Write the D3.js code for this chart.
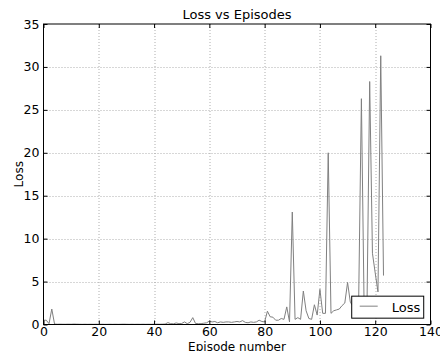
<!DOCTYPE html>
<html>
<head>
<meta charset="utf-8">
<script src="https://cdn.jsdelivr.net/npm/d3@7"></script>
<style>
  html, body { margin: 0; padding: 0; background: #fff; }
  svg { display: block; }
  text { font-family: "DejaVu Sans", sans-serif; fill: #000; }
</style>
</head>
<body>
<svg id="chart" width="440" height="351"></svg>
<script>
// ---- data ----
const episodes = d3.range(0, 124);
const lossValues = [
  0.5, 0.5, 0.1, 1.8, 0.05, 0.03, 0.04, 0.03, 0.03, 0.04,
  0.03, 0.05, 0.04, 0.03, 0.02, 0.03, 0.02, 0.03, 0.02, 0.03,
  0.02, 0.03, 0.02, 0.02, 0.03, 0.02, 0.03, 0.02, 0.03, 0.04,
  0.03, 0.02, 0.03, 0.02, 0.03, 0.02, 0.03, 0.02, 0.03, 0.02,
  0.03, 0.04, 0.03, 0.04, 0.05, 0.22, 0.1, 0.08, 0.18, 0.1,
  0.12, 0.3, 0.1, 0.25, 0.8, 0.12, 0.1, 0.1, 0.15, 0.2,
  0.4, 0.3, 0.35, 0.2, 0.3, 0.25, 0.3, 0.3, 0.25, 0.3,
  0.35, 0.3, 0.45, 0.25, 0.2, 0.3, 0.25, 0.3, 0.5, 0.35,
  0.3, 1.55, 0.9, 0.85, 0.5, 0.5, 0.7, 0.6, 2.05, 0.3,
  13.1, 0.6, 0.8, 0.6, 3.9, 1.6, 0.7, 0.6, 2.3, 1.1,
  4.1, 1.3, 1.3, 20.0, 1.3, 1.6, 1.7, 1.8, 2.2, 2.5,
  4.9, 2.6, 2.1, 1.8, 2.5, 26.3, 1.5, 1.2, 28.3, 8.3,
  6.0, 3.8, 31.3, 5.7
];
const xTicks = [0, 20, 40, 60, 80, 100, 120, 140];
const yTicks = [0, 5, 10, 15, 20, 25, 30, 35];
const seriesName = "Loss";
const titleText = "Loss vs Episodes";
const xLabelText = "Episode number";
const yLabelText = "Loss";

// ---- layout ----
const W = 440, H = 351;
const m = { left: 43.5, right: 9.5, top: 24, bottom: 26.5 };
const iw = W - m.left - m.right, ih = H - m.top - m.bottom;

const svg = d3.select("#chart");
const g = svg.append("g").attr("transform", `translate(${m.left},${m.top})`);

const x = d3.scaleLinear().domain([0, 140]).range([0, iw]);
const y = d3.scaleLinear().domain([0, 35]).range([ih, 0]);

// grid
g.append("g").selectAll("line").data(xTicks.filter(t => t > 0 && t < 140)).join("line")
  .attr("x1", d => Math.round(x(d)) + 0.5).attr("x2", d => Math.round(x(d)) + 0.5)
  .attr("y1", 0).attr("y2", ih)
  .attr("stroke", "#9a9a9a").attr("stroke-width", 0.8).attr("stroke-dasharray", "1,2");
g.append("g").selectAll("line").data(yTicks.filter(t => t > 0 && t < 35)).join("line")
  .attr("y1", d => Math.round(y(d)) + 0.5).attr("y2", d => Math.round(y(d)) + 0.5)
  .attr("x1", 0).attr("x2", iw)
  .attr("stroke", "#9a9a9a").attr("stroke-width", 0.8).attr("stroke-dasharray", "1,2");

// line
const line = d3.line().x((d, i) => x(episodes[i])).y(d => y(d));
g.append("path").datum(lossValues)
  .attr("fill", "none").attr("stroke", "#808080").attr("stroke-width", 1)
  .attr("d", line);

// axes (inward ticks, classic style)
const fmt = d3.format("d");
const xAxisB = d3.axisBottom(x).tickValues(xTicks).tickFormat(fmt).tickSizeInner(-4).tickSizeOuter(0).tickPadding(3);
const xAxisT = d3.axisTop(x).tickValues(xTicks).tickFormat("").tickSizeInner(-4).tickSizeOuter(0);
const yAxisL = d3.axisLeft(y).tickValues(yTicks).tickFormat(fmt).tickSizeInner(-4).tickSizeOuter(0).tickPadding(4);
const yAxisR = d3.axisRight(y).tickValues(yTicks).tickFormat("").tickSizeInner(-4).tickSizeOuter(0);

function styleAxis(sel) {
  sel.select(".domain").remove();
  sel.selectAll("line").attr("stroke", "#000").attr("stroke-width", 1);
  sel.selectAll("text").attr("font-family", "DejaVu Sans, sans-serif").attr("font-size", 12.5).attr("fill", "#000");
}
g.append("g").attr("transform", `translate(0,${ih})`).call(xAxisB).call(styleAxis);
g.append("g").call(xAxisT).call(styleAxis);
g.append("g").call(yAxisL).call(styleAxis);
g.append("g").attr("transform", `translate(${iw},0)`).call(yAxisR).call(styleAxis);

// frame
g.append("rect").attr("x", 0).attr("y", 0).attr("width", iw).attr("height", ih)
  .attr("fill", "none").attr("stroke", "#000").attr("stroke-width", 1);

// legend
const lg = g.append("g").attr("transform", `translate(${x(111.5)},${y(3.3)})`);
lg.append("rect").attr("x", 0).attr("y", 0).attr("width", 72).attr("height", 22)
  .attr("fill", "#fff").attr("stroke", "#000").attr("stroke-width", 1);
lg.append("line").attr("x1", 8).attr("x2", 26).attr("y1", 10).attr("y2", 10)
  .attr("stroke", "#808080").attr("stroke-width", 1);
lg.append("text").attr("x", 40).attr("y", 15.5).attr("font-size", 13).text(seriesName);

// title and labels
svg.append("text").attr("x", m.left + iw / 2).attr("y", 19).attr("text-anchor", "middle")
  .attr("font-size", 13).text(titleText);
svg.append("text").attr("x", m.left + iw / 2).attr("y", 350.5).attr("text-anchor", "middle")
  .attr("font-size", 12).text(xLabelText);
svg.append("text").attr("transform", `translate(22.5,${m.top + ih / 2}) rotate(-90)`)
  .attr("text-anchor", "middle").attr("font-size", 12).text(yLabelText);
</script>
</body>
</html>
